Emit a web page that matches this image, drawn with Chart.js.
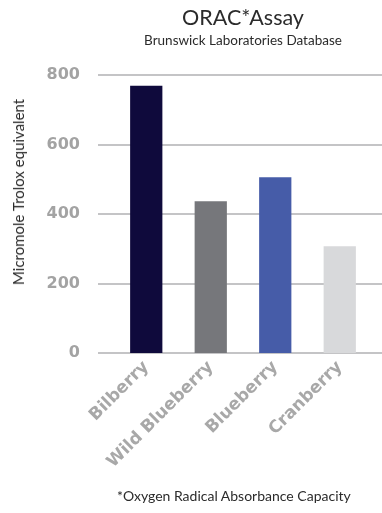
<!DOCTYPE html>
<html>
<head>
<meta charset="utf-8">
<script src="https://cdn.jsdelivr.net/npm/chart.js@4"></script>
<style>
    html, body { margin: 0; padding: 0; background: #fff; }
    #wrap { position: relative; width: 382px; height: 513px; }
    canvas { position: absolute; left: 0; top: 0; }
    .txt { position: absolute; font-family: Lato, "Open Sans", sans-serif; color: #2b2b2b; white-space: nowrap; }
    #title { left: 114px; width: 258px; top: 4px; text-align: center; font-size: 21.5px; }
    #subtitle { left: 114px; width: 258px; top: 32px; text-align: center; font-size: 13.5px; }
    #ylabel { left: 18px; top: 192px; font-size: 15px; transform: translate(-50%, -50%) rotate(-90deg); }
    #footer { left: 117px; top: 487px; font-size: 14px; }
</style>
</head>
<body>
<div id="wrap">
    <canvas id="oracChart" width="382" height="513"></canvas>
    <div class="txt" id="title">ORAC*Assay</div>
    <div class="txt" id="subtitle">Brunswick Laboratories Database</div>
    <div class="txt" id="ylabel">Micromole Trolox equivalent</div>
    <div class="txt" id="footer">*Oxygen Radical Absorbance Capacity</div>
</div>
<script>
// Dati ORAC
const categories = ['Bilberry', 'Wild Blueberry', 'Blueberry', 'Cranberry'];
const oracValues = [769, 437, 506, 307];
const barColors = ['#0f0a3c', '#76777b', '#465ca8', '#d8d9db'];
const yTicks = [0, 200, 400, 600, 800];

// Linee orizzontali che sporgono oltre l'area del grafico
const gridPlugin = {
    id: 'wideGrid',
    beforeDatasetsDraw(chart) {
        const ctx = chart.ctx;
        const y = chart.scales.y;
        ctx.save();
        ctx.strokeStyle = '#c4c4c6';
        ctx.lineWidth = 2;
        yTicks.forEach(v => {
            const py = Math.round(y.getPixelForValue(v));
            ctx.beginPath();
            ctx.moveTo(98, py);
            ctx.lineTo(chart.width, py);
            ctx.stroke();
        });
        ctx.restore();
    }
};

const ctx = document.getElementById('oracChart').getContext('2d');
new Chart(ctx, {
    type: 'bar',
    data: {
        labels: categories,
        datasets: [{
            data: oracValues,
            backgroundColor: barColors,
            barPercentage: 0.5,
            categoryPercentage: 1
        }]
    },
    options: {
        responsive: false,
        animation: false,
        layout: { padding: { top: 75, right: 10, left: 0, bottom: 0 } },
        plugins: { legend: { display: false }, tooltip: { enabled: false } },
        scales: {
            x: {
                grid: { display: false, drawTicks: false },
                border: { display: false },
                ticks: {
                    minRotation: 45,
                    maxRotation: 45,
                    padding: 4,
                    color: '#a8a8a8',
                    font: { family: 'DejaVu Sans', weight: 'bold', size: 17 }
                },
                afterFit: s => { s.height = 160; }
            },
            y: {
                min: 0,
                max: 800,
                grid: { display: false, drawTicks: false },
                border: { display: false },
                afterBuildTicks: s => { s.ticks = yTicks.map(v => ({ value: v })); },
                ticks: {
                    padding: 34,
                    color: '#a3a3a3',
                    font: { family: 'DejaVu Sans', weight: 'bold', size: 16 }
                },
                afterFit: s => { s.width = 114; }
            }
        }
    },
    plugins: [gridPlugin]
});
</script>
</body>
</html>
